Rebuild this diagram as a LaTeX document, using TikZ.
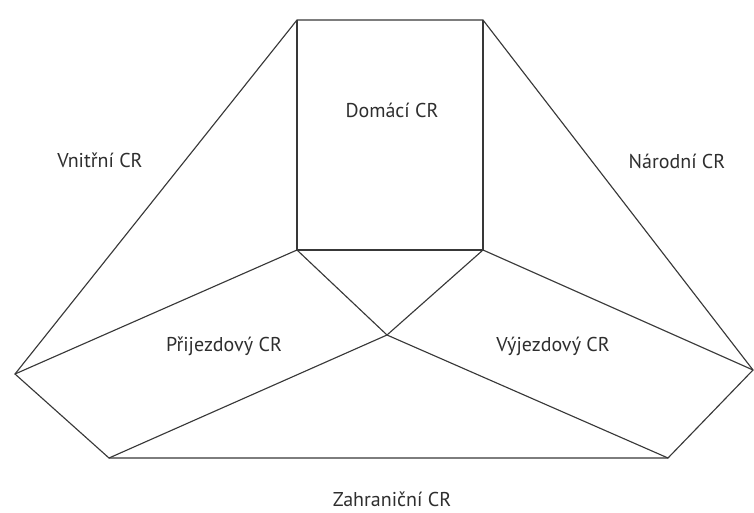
\documentclass[tikz,border=0pt]{standalone}
\usepackage{fontspec}
\setmainfont{PT Sans}
\usepackage{tikz}

\begin{document}
\begin{tikzpicture}[x=0.75pt,y=-0.75pt,
        line width=0.85pt, color=black!78,
        lbl/.style={text=black!82, font=\fontsize{15}{18}\selectfont}]
        \useasboundingbox (0,0) rectangle (754,512);
        \coordinate (tl) at (297,20); 
        \coordinate (tr) at (483,20); 
        \coordinate (bl) at (297,250); 
        \coordinate (br) at (483,250); 
        \coordinate (m) at (387,335); 
        \coordinate (l) at (15,374); 
        \coordinate (r) at (753,370); 
        \coordinate (dl) at (109,458); 
        \coordinate (dr) at (668,458); 
        \draw (tl) -- (tr) -- (r) -- (dr) -- (dl) -- (l) -- cycle;
        \draw (tl) -- (bl) -- (br) -- (tr);
        \draw (bl) -- (l);
        \draw (br) -- (r);
        \draw (bl) -- (m) -- (br);
        \draw (dl) -- (m) -- (dr);
        \node[lbl] (domaci) at (392,110) {Domácí CR};
        \node[lbl] (vnitrni) at (100,160) {Vnitřní CR};
        \node[lbl] (narodni) at (677,161) {Národní CR};
        \node[lbl] (prijezd) at (224,346) {Přijezdový CR};
        \node[lbl] (vyjezd) at (553,346) {Výjezdový CR};
        \node[lbl] (zahr) at (392,499) {Zahraniční CR};
        \end{tikzpicture}
\end{document}
